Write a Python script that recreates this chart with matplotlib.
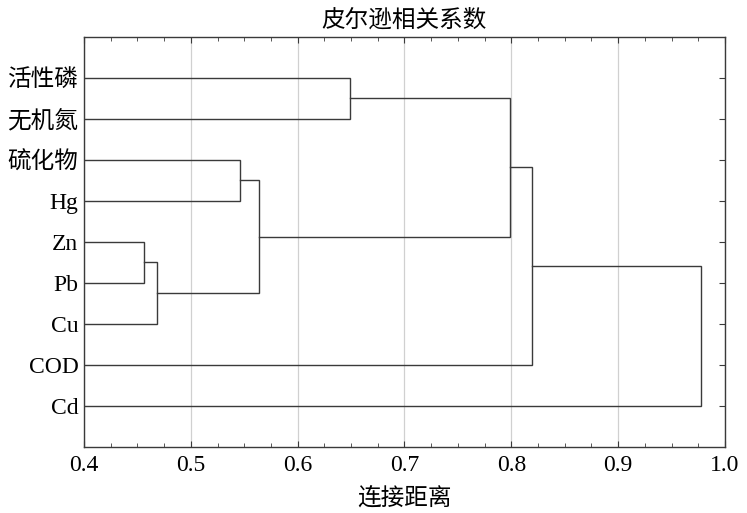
import matplotlib
matplotlib.use("Agg")
import matplotlib.pyplot as plt
from matplotlib.ticker import MultipleLocator

# Leaves (top to bottom)
leaves = ["活性磷", "无机氮", "硫化物", "Hg", "Zn", "Pb", "Cu", "COD", "Cd"]
# Merges: (child_a, child_b, linkage distance); new cluster ids start at len(leaves)
merge_a = [4, 9, 2, 11, 0, 13, 14, 15]
merge_b = [5, 6, 3, 10, 1, 12, 7, 8]
merge_h = [0.456, 0.468, 0.546, 0.564, 0.649, 0.799, 0.819, 0.978]
xticks = [0.4, 0.5, 0.6, 0.7, 0.8, 0.9, 1.0]

fam = ["Liberation Serif", "Noto Sans CJK SC", "DejaVu Sans"]
plt.rcParams["font.family"] = fam

fig = plt.figure(figsize=(7.47, 5.13), dpi=100)
ax = fig.add_axes([0.1124, 0.1287, 0.8581, 0.7998])

pos = {i: i + 1 for i in range(len(leaves))}
hgt = {i: 0.0 for i in range(len(leaves))}
lc = "#3a3a3a"
for k, (a, b, h) in enumerate(zip(merge_a, merge_b, merge_h)):
    nid = len(leaves) + k
    ya, yb = pos[a], pos[b]
    ax.plot([hgt[a], h, h, hgt[b]], [ya, ya, yb, yb], color=lc, lw=1.0,
            solid_joinstyle="miter")
    pos[nid] = (ya + yb) / 2
    hgt[nid] = h

ax.set_xlim(0.4, 1.0)
ax.set_ylim(10, 0)
ax.set_xticks(xticks)
ax.set_xticklabels([f"{v:.1f}" for v in xticks], fontsize=17)
ax.xaxis.set_minor_locator(MultipleLocator(0.025))
ax.set_yticks(range(1, len(leaves) + 1))
ax.set_yticklabels(leaves, fontsize=17)
ax.grid(axis="x", which="major", color="#d0d0d0", lw=0.9)
ax.set_axisbelow(True)
ax.tick_params(axis="x", which="both", direction="in", top=True, bottom=True,
               color=lc)
ax.tick_params(axis="x", which="major", length=4, pad=6)
ax.tick_params(axis="x", which="minor", length=3)
ax.tick_params(axis="y", which="both", direction="in", left=False, right=True,
               length=4, pad=4, color=lc)
for s in ax.spines.values():
    s.set_color(lc)
    s.set_linewidth(1.0)

ax.set_title("皮尔逊相关系数", fontsize=17, pad=7)
ax.set_xlabel("连接距离", fontsize=17, labelpad=8)

fig.savefig("out.png", dpi=100)
